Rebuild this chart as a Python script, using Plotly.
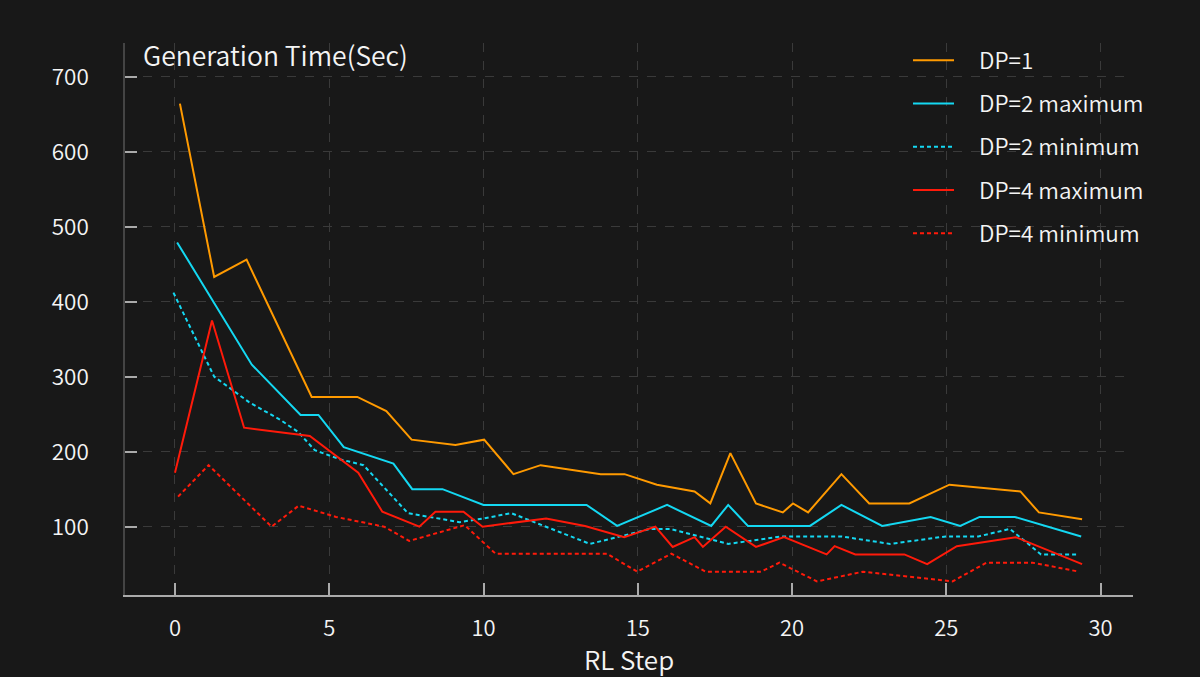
import plotly.graph_objects as go

# ---- data ----
dp1_x = [0.16, 1.27, 2.32, 4.43, 5.91, 6.85, 7.67, 9.09, 10.02, 10.97, 11.85, 13.8, 14.57, 15.62,
         16.84, 17.35, 18.0, 18.83, 19.7, 20.03, 20.52, 21.6, 22.5, 23.8, 25.1, 27.4, 28.0, 29.4]
dp1_y = [664, 433, 456, 273, 273, 254, 216, 209, 216, 170, 182, 170, 170, 156,
         147, 131, 198, 131, 119, 131, 119, 170, 131, 131, 156, 147, 119, 110]

dp2max_x = [0.07, 2.49, 4.07, 4.65, 5.47, 7.08, 7.69, 8.67, 10.0, 13.34, 14.33, 15.95, 17.38,
            17.93, 18.57, 20.58, 21.6, 22.92, 24.49, 25.45, 26.08, 27.22, 29.37]
dp2max_y = [479, 316, 249, 249, 206, 184, 150, 150, 129, 129, 101, 129, 101,
            129, 101, 101, 129, 101, 113, 101, 113, 113, 87]

dp2min_x = [-0.05, 1.27, 2.4, 3.43, 4.0, 4.53, 5.33, 6.11, 7.55, 9.22, 10.0, 10.9, 13.45, 15.4,
            16.04, 17.93, 19.66, 21.6, 23.18, 24.98, 26.04, 27.06, 28.07, 29.29]
dp2min_y = [412, 300, 266, 242, 226, 202, 190, 182, 118, 106, 111, 118, 77, 97,
            97, 77, 87, 87, 77, 87, 87, 97, 63, 63]

dp4max_x = [0.0, 1.2, 2.24, 4.37, 5.94, 6.72, 7.92, 8.44, 9.35, 9.97, 12.03, 13.29, 14.56, 15.57,
            16.13, 16.84, 17.11, 17.85, 18.83, 19.74, 21.12, 21.38, 22.05, 23.64, 24.38, 25.34,
            27.25, 29.4]
dp4max_y = [172, 375, 232, 221, 172, 120, 100, 120, 120, 100, 111, 101, 86, 100,
            73, 86, 73, 100, 73, 86, 63, 74, 63, 63, 50, 74, 86, 50]

dp4min_x = [0.1, 1.09, 3.13, 4.01, 5.22, 6.78, 7.59, 9.39, 10.39, 14.0, 14.98, 16.09, 17.2, 19.0,
            19.59, 20.81, 22.3, 25.2, 26.3, 27.8, 29.3]
dp4min_y = [140, 182, 100, 128, 113, 100, 81, 102, 64, 64, 40, 64, 40, 40,
            52, 27, 40, 27, 52, 52, 40]

series_names = ["DP=1", "DP=2 maximum", "DP=2 minimum", "DP=4 maximum", "DP=4 minimum"]
x_ticks = [0, 5, 10, 15, 20, 25, 30]
y_ticks = [100, 200, 300, 400, 500, 600, 700]
y_title = "Generation Time(Sec)"
x_title = "RL Step"

# ---- style ----
ORANGE = "#ff9a00"
CYAN = "#14d8f2"
RED = "#ff1a0a"
BG = "#181818"
TXT = "#f4f4f4"
FONT = "Noto Sans CJK JP"
WT = 350
DOT = "4px,3px"

fig = go.Figure()
specs = [
    (dp1_x, dp1_y, ORANGE, "solid"),
    (dp2max_x, dp2max_y, CYAN, "solid"),
    (dp2min_x, dp2min_y, CYAN, DOT),
    (dp4max_x, dp4max_y, RED, "solid"),
    (dp4min_x, dp4min_y, RED, DOT),
]
for i, (xs, ys, c, d) in enumerate(specs):
    fig.add_trace(go.Scatter(
        x=xs, y=ys, mode="lines", name="\u00a0\u00a0\u00a0\u00a0" + series_names[i],
        legendgroup=str(i),
        line=dict(color=c, width=2, dash=d),
    ))

L, R, T, B = 125, 67, 43, 82
W, H = 1200, 677

fig.update_layout(
    width=W, height=H,
    paper_bgcolor=BG, plot_bgcolor=BG,
    margin=dict(l=L, r=R, t=T, b=B, pad=0),
    font=dict(family=FONT, color=TXT, size=22, weight=WT),
    showlegend=True,
    legend=dict(
        x=(908 - L) / (W - L - R), y=1 - (39 - T) / (H - T - B),
        xanchor="left", yanchor="top",
        bgcolor="rgba(0,0,0,0)", borderwidth=0,
        tracegroupgap=11, traceorder="grouped",
        itemwidth=41,
        font=dict(size=22.5, color=TXT, family=FONT, weight=WT),
    ),
    xaxis=dict(
        range=[-1.62, 31.05],
        tickvals=x_ticks, ticktext=[str(v) for v in x_ticks],
        ticks="inside", ticklen=12, tickcolor="#aaaaaa", tickwidth=1.5,
        showline=True, linecolor="#aaaaaa", linewidth=1.5,
        showgrid=True, gridcolor="#3a3a3a", griddash="dash", gridwidth=1,
        zeroline=False,
        tickfont=dict(size=22, color=TXT, weight=WT),
        ticklabelstandoff=13,
        title=dict(text=x_title, font=dict(size=26, color=TXT, weight=WT), standoff=6),
    ),
    yaxis=dict(
        range=[8.9, 744.9],
        tickvals=y_ticks, ticktext=[str(v) for v in y_ticks],
        ticks="inside", ticklen=12, tickcolor="#aaaaaa", tickwidth=1.5,
        showline=True, linecolor="#444444", linewidth=1.5,
        showgrid=True, gridcolor="#3a3a3a", griddash="dash", gridwidth=1,
        zeroline=False,
        tickfont=dict(size=22.5, color=TXT, weight=WT),
        ticklabelstandoff=30,
    ),
    annotations=[dict(
        text=y_title, xref="paper", yref="paper",
        x=(141 - L) / (W - L - R), y=1 - (55 - T) / (H - T - B),
        xanchor="left", yanchor="middle", showarrow=False,
        font=dict(size=26.5, color=TXT, family=FONT, weight=WT),
    )],
)

fig.write_html(
    "out.html",
    config={"displayModeBar": False},
    post_script="document.body.style.margin='0';document.body.style.padding='0';"
                "document.body.style.overflow='hidden';document.body.style.background='#181818';",
)
